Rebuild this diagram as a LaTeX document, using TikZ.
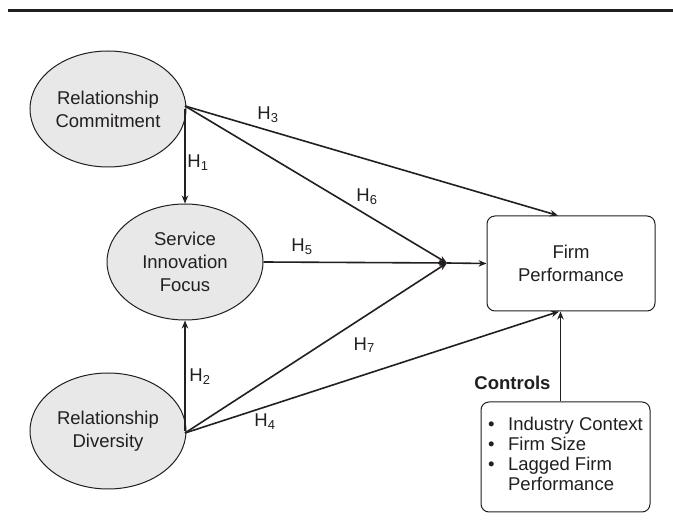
\documentclass[tikz,border=0pt]{standalone}
\usepackage{fontspec}
\setmainfont{Liberation Sans}
\usetikzlibrary{shapes.geometric,arrows.meta,calc}
\definecolor{ellfill}{HTML}{E8E8E9}
\definecolor{inkc}{HTML}{231F20}
\tikzset{
  latent/.style={ellipse,draw=inkc,line width=1pt,fill=ellfill,minimum width=156pt,minimum height=116pt,inner sep=0pt,align=center,font=\fontsize{18.5}{23}\selectfont,text=inkc},
  boxnode/.style={draw=inkc,line width=1pt,rounded corners=8pt,inner sep=0pt,text=inkc},
  conn/.style={draw=inkc,line width=1.6pt},
  arr/.style={conn,-{Stealth[length=8pt,width=6.5pt]}},
  hlab/.style={font=\fontsize{18.5}{20}\selectfont,text=inkc,inner sep=0pt},
}
\begin{document}
\begin{tikzpicture}[x=1pt,y=-1pt]
\useasboundingbox (0,0) rectangle (673,521);
\fill[white] (0,0) rectangle (673,521);
% top rule
\draw[line width=3pt,draw=inkc] (8,11) -- (673,11);
% nodes
\node[latent] (rc) at (108,109) {Relationship\\Commitment};
\node[latent] (sif) at (185,262) {Service\\Innovation\\Focus};
\node[latent] (rd) at (108,431) {Relationship\\Diversity};
\node[boxnode,minimum width=168pt,minimum height=95pt,align=center,font=\fontsize{18.5}{23}\selectfont] (firm) at (571,263.5) {Firm\\Performance};
\node[boxnode,minimum width=169pt,minimum height=110pt] (ctrl) at (565.5,457)
  {\fontsize{18.5}{20}\selectfont\begin{tabular}{@{}l@{}}
   \makebox[20pt][l]{•}Industry Context\\
   \makebox[20pt][l]{•}Firm Size\\
   \makebox[20pt][l]{•}Lagged Firm\\
   \makebox[20pt][l]{}Performance
  \end{tabular}};
\node[font=\bfseries\fontsize{18.5}{20}\selectfont,text=inkc,inner sep=0pt] (ctrllab) at (512.5,383) {Controls};
\coordinate (j) at (447,263);
\coordinate (rcs) at (185,106);
\coordinate (rds) at (185,433);
\coordinate (fin3) at ([xshift=-13pt]firm.north);
\coordinate (fin4) at ([xshift=-12pt]firm.south);
\coordinate (cin) at ([xshift=-5pt]ctrl.north);
% connectors
\draw[arr] (sif.north |- rc.east) -- (sif.north);
\draw[arr] (sif.south |- rd.east) -- (sif.south);
\draw[arr] (rcs) -- (fin3);
\draw[arr] (rcs) -- (j);
\draw[arr] (sif.east) -- (j);
\draw[arr] (rds) -- (j);
\draw[arr] (rds) -- (fin4);
\draw[arr] (j) -- (firm.west);
\draw[arr] (cin) -- (cin |- firm.south);
% labels
\node[hlab] (h3) at (268,115) {H\textsubscript{3}};
\node[hlab] (h1) at (198,163) {H\textsubscript{1}};
\node[hlab] (h6) at (367,197) {H\textsubscript{6}};
\node[hlab] (h5) at (302,247) {H\textsubscript{5}};
\node[hlab] (h7) at (364,345) {H\raisebox{-1.5pt}{\fontsize{13}{13}\selectfont 7}};
\node[hlab] (h2) at (200,377) {H\textsubscript{2}};
\node[hlab] (h4) at (265,422) {H\textsubscript{4}};
\end{tikzpicture}
\end{document}
